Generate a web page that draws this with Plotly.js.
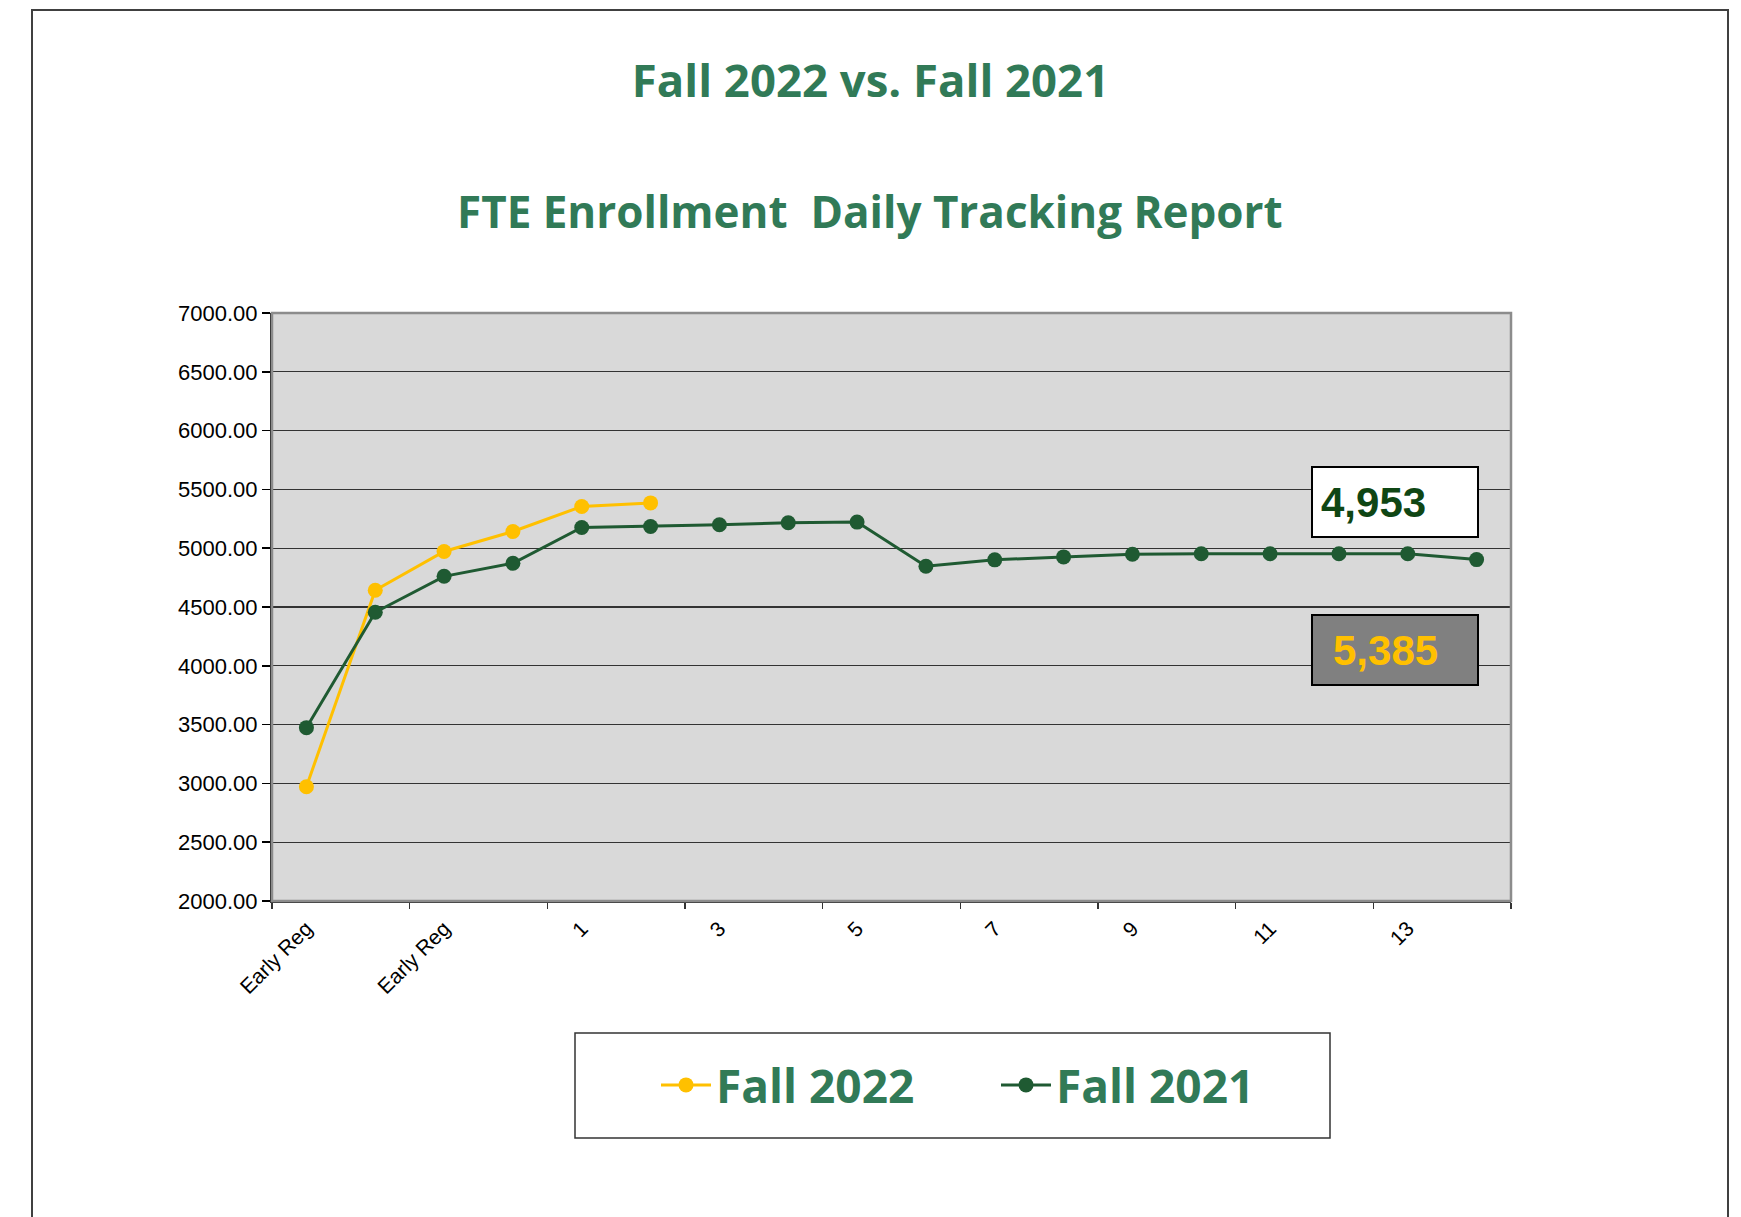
<!DOCTYPE html>
<html><head><meta charset="utf-8">
<script src="https://cdn.plot.ly/plotly-3.0.1.min.js"></script>
<style>html,body{margin:0;padding:0;background:#fff;} #chart{width:1741px;height:1217px;}</style>
</head><body><div id="chart"></div>
<script>
// ---- data ----
const categories = ["Early Reg","Early Reg","Early Reg","Early Reg","1","2","3","4","5","6","7","8","9","10","11","12","13","14"];
const fall2022 = [2972, 4642, 4972, 5142, 5355, 5385];
const fall2021 = [3474, 4455, 4761, 4872, 5176, 5185, 5199, 5216, 5222, 4847, 4901, 4926, 4949, 4953, 4953, 4953, 4953, 4903];
const seriesNames = ["Fall 2022", "Fall 2021"];
const yTicks = [2000, 2500, 3000, 3500, 4000, 4500, 5000, 5500, 6000, 6500, 7000];
const titleMain = "Fall 2022 vs. Fall 2021";
const titleSub = "FTE Enrollment  Daily Tracking Report";
const label2021 = "4,953";
const label2022 = "5,385";

// ---- derived ----
const idx = categories.map((c, i) => i);
const labelIdx = idx.filter(i => i % 2 === 0);
const labelText = labelIdx.map(i => categories[i]);
const boundaries = [];
for (let i = 0; i <= categories.length; i += 2) boundaries.push(i - 0.5);

const GREEN_T = "#317A57";
const YELLOW = "#FFC000";
const DKGREEN = "#1F5A32";
const W = 1741, H = 1217;
const L = 272, R = 1511, T = 313, B = 901;
const px = x => (x - L) / (R - L);
const py = y => (B - y) / (B - T);

const traces = [
  {x: idx.slice(0, fall2022.length), y: fall2022, name: seriesNames[0], type: "scatter", mode: "lines+markers",
   line: {color: YELLOW, width: 3}, marker: {color: YELLOW, size: 15}},
  {x: idx.slice(0, fall2021.length), y: fall2021, name: seriesNames[1], type: "scatter", mode: "lines+markers",
   line: {color: DKGREEN, width: 3}, marker: {color: DKGREEN, size: 15}}
];

const layout = {
  width: W, height: H,
  margin: {l: L, r: W - R, t: T, b: H - B, pad: 0},
  paper_bgcolor: "#ffffff",
  plot_bgcolor: "#d9d9d9",
  showlegend: true,
  title: {text: titleMain, x: 0.5, xref: "container", xanchor: "center", y: 1 - 81 / H, yref: "container", yanchor: "middle",
          font: {family: "Open Sans", size: 45.5, color: GREEN_T, weight: 700}},
  xaxis: {
    range: [-0.5, categories.length - 0.5], tickmode: "array", tickvals: labelIdx, ticktext: labelText,
    tickangle: -45, ticks: "", ticklabelstandoff: 5,
    tickfont: {family: "Liberation Sans, Arial", size: 21, color: "#000"},
    showgrid: false, zeroline: false, showline: true, linecolor: "#333", linewidth: 2,
    minor: {tickmode: "array", tickvals: boundaries, ticks: "outside", ticklen: 6, tickcolor: "#333", tickwidth: 1.5, showgrid: false}
  },
  yaxis: {
    range: [2000, 7000], tickmode: "array", tickvals: yTicks, tickformat: ".2f",
    ticks: "outside", ticklen: 8, tickcolor: "#000", tickwidth: 1.5,
    tickfont: {family: "Liberation Sans, Arial", size: 22, color: "#000"},
    showgrid: true, gridcolor: "#333", gridwidth: 1.2, zeroline: false,
    showline: true, linecolor: "#222", linewidth: 2
  },
  legend: {
    orientation: "h", x: px(656), xanchor: "left", y: py(1085), yanchor: "middle",
    bgcolor: "rgba(0,0,0,0)", borderwidth: 0,
    font: {family: "Open Sans", size: 46, color: GREEN_T, weight: 700},
    entrywidth: 275, entrywidthmode: "pixels", itemwidth: 50
  },
  shapes: [
    {type: "rect", xref: "paper", yref: "paper", x0: px(32), x1: px(1728), y0: py(1240), y1: py(10),
     line: {color: "#404040", width: 2}, layer: "below"},
    {type: "rect", xref: "paper", yref: "paper", x0: 0, x1: 1, y0: 0, y1: 1,
     line: {color: "#8c8c8c", width: 2.5}, layer: "above"},
    {type: "rect", xref: "paper", yref: "paper", x0: px(575), x1: px(1330), y0: py(1138), y1: py(1033),
     line: {color: "#333", width: 1.5}},
    {type: "rect", xref: "paper", yref: "paper", x0: px(1312), x1: px(1478), y0: py(537), y1: py(467),
     fillcolor: "#ffffff", line: {color: "#000", width: 2}, layer: "above"},
    {type: "rect", xref: "paper", yref: "paper", x0: px(1312), x1: px(1478), y0: py(685), y1: py(615),
     fillcolor: "#808080", line: {color: "#000", width: 2}, layer: "above"}
  ],
  annotations: [
    {text: titleSub, xref: "paper", yref: "paper", x: px(870), y: py(211), xanchor: "center", yanchor: "middle",
     showarrow: false, font: {family: "Open Sans", size: 44, color: GREEN_T, weight: 700}},
    {text: label2021, xref: "paper", yref: "paper", x: px(1319), y: py(502), xanchor: "left", yanchor: "middle",
     showarrow: false, font: {family: "Liberation Sans, Arial", size: 42, color: "#0F4614", weight: 700}},
    {text: label2022, xref: "paper", yref: "paper", x: px(1331), y: py(650), xanchor: "left", yanchor: "middle",
     showarrow: false, font: {family: "Liberation Sans, Arial", size: 42, color: YELLOW, weight: 700}}
  ]
};

Plotly.newPlot("chart", traces, layout, {staticPlot: true, displayModeBar: false});
</script>
</body></html>
